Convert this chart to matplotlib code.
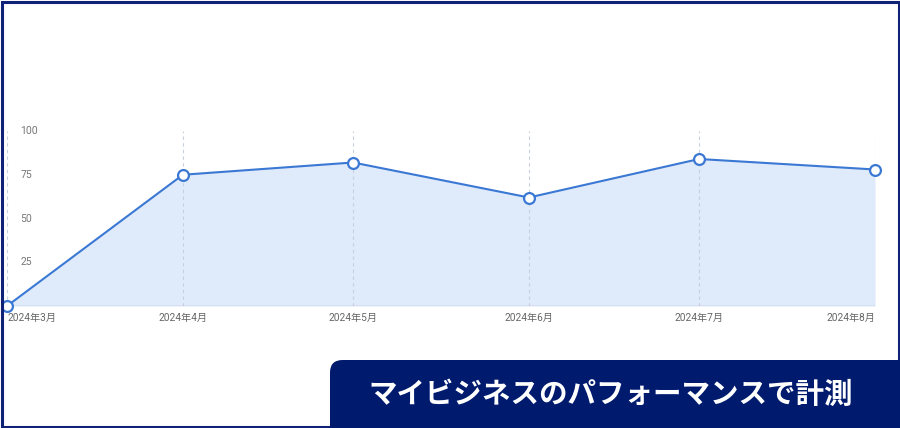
import numpy as np
import matplotlib
matplotlib.use('Agg')
import matplotlib.pyplot as plt
from matplotlib.patches import FancyBboxPatch, Rectangle

# data
months = np.array(['2024-03-01', '2024-04-01', '2024-05-01', '2024-06-01',
                   '2024-07-01', '2024-08-01'], dtype='datetime64[D]')
values = [0, 75, 82, 62, 84, 78]
month_labels = ['2024年3月', '2024年4月', '2024年5月', '2024年6月', '2024年7月', '2024年8月']
y_ticks = [25, 50, 75, 100]
banner_text = 'マイビジネスのパフォーマンスで計測'

plt.rcParams['font.family'] = ['Roboto', 'Noto Sans CJK JP', 'DejaVu Sans']

W, H = 900, 428
fig = plt.figure(figsize=(W / 100, H / 100), dpi=100)
fig.patch.set_facecolor('white')

# plot area in pixels
x0, x1, ytop, ybot = 7, 875, 131, 306
ax = fig.add_axes([x0 / W, (H - ybot) / H, (x1 - x0) / W, (ybot - ytop) / H])
ax.set_facecolor('none')

line_col = '#3a78d4'
fill_col = '#dfeafb'
ax.fill_between(months, values, 0, color=fill_col, lw=0, zorder=1)
for m in months:
    ax.axvline(m, color='#c8cedb', lw=0.8, ls=(0, (3, 3)), zorder=2)
ax.axhline(0, color='#b0b8c8', lw=1.0, zorder=2)
ax.plot(months, values, color=line_col, lw=1.5, zorder=3,
        marker='o', ms=7.8, mfc='white', mec=line_col, mew=1.6, clip_on=False)

ax.set_xlim(months[0], months[-1])
ax.set_ylim(0, 100)

for s in ax.spines.values():
    s.set_visible(False)

ax.set_xticks(months)
ax.set_xticklabels(month_labels)
ax.tick_params(axis='x', length=0, pad=5, labelsize=7.3, labelcolor='#666666')
xl = ax.get_xticklabels()
xl[0].set_ha('left')
xl[-1].set_ha('right')

ax.set_yticks(y_ticks)
ax.set_yticklabels([str(v) for v in y_ticks])
ax.tick_params(axis='y', length=0, pad=-9.5, labelsize=7.5, labelcolor='#777777')
for t in ax.get_yticklabels():
    t.set_ha('left')
    t.set_va('center')

# outer frame
navy = '#0f2278'
fig.patches.append(Rectangle((1.5 / W, 1.5 / H), (W - 3) / W, (H - 3) / H,
                             transform=fig.transFigure, fill=False,
                             edgecolor=navy, lw=2.2, zorder=5))

# banner
bx, by = 330, 360
banner = FancyBboxPatch((bx / W, -20 / H), (W + 20 - bx) / W, (H - by + 20) / H,
                        boxstyle='round,pad=0,rounding_size=0.014',
                        transform=fig.transFigure, facecolor='#001a6e',
                        edgecolor='none', zorder=6, mutation_aspect=W / H)
fig.patches.append(banner)
fig.text(611 / W, (H - 395) / H, banner_text, color='white', fontsize=20.5,
         fontweight='bold', ha='center', va='center', zorder=7,
         family=['Noto Sans CJK JP', 'DejaVu Sans'])

fig.savefig('out.png', dpi=100)
